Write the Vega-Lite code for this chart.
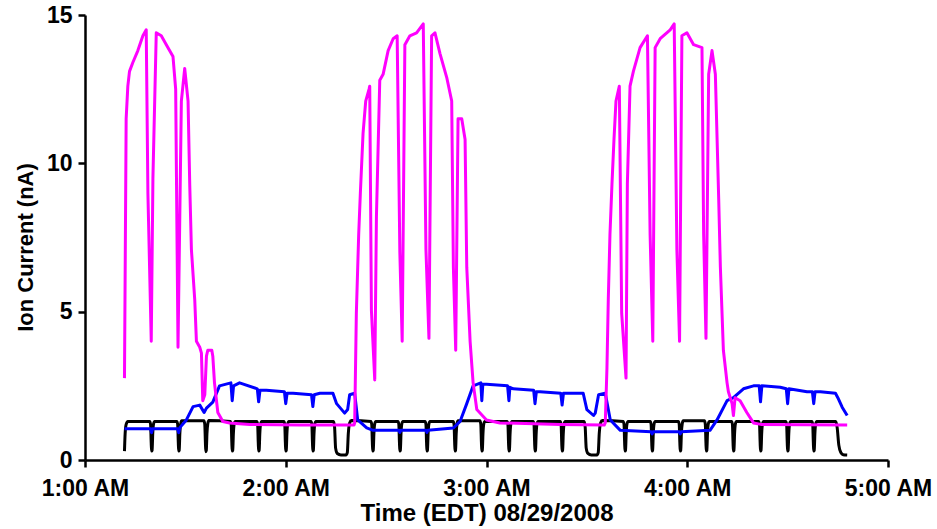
{
  "$schema": "https://vega.github.io/schema/vega-lite/v6.json",
  "width": 803,
  "height": 445,
  "autosize": {"type": "none"},
  "padding": {"left": 85, "top": 15, "right": 49, "bottom": 69},
  "background": "white",
  "config": {
    "view": {"stroke": null},
    "axis": {
      "grid": false,
      "domainColor": "black",
      "tickColor": "black",
      "domainWidth": 2.5,
      "tickWidth": 2.5,
      "tickSize": 7,
      "labelFont": "Liberation Sans",
      "labelFontWeight": "bold",
      "labelFontSize": 23,
      "labelColor": "black",
      "titleFont": "Liberation Sans",
      "titleFontWeight": "bold",
      "titleFontSize": 22,
      "titleColor": "black"
    }
  },
  "datasets": {
    "black": [
      {"minute": 71.8, "current": 0.3}, {"minute": 72.0, "current": 0.9}, {"minute": 72.3, "current": 1.2}, {"minute": 72.8, "current": 1.3},
      {"minute": 79.35, "current": 1.3}, {"minute": 79.6, "current": 1.2}, {"minute": 79.78, "current": 0.6}, {"minute": 79.9, "current": 0.3}, {"minute": 80.05, "current": 0.32}, {"minute": 80.25, "current": 0.9}, {"minute": 80.5, "current": 1.22}, {"minute": 80.8, "current": 1.3},
      {"minute": 87.45, "current": 1.3}, {"minute": 87.7, "current": 1.2}, {"minute": 87.88, "current": 0.6}, {"minute": 88.0, "current": 0.3}, {"minute": 88.15, "current": 0.32}, {"minute": 88.35, "current": 0.9}, {"minute": 88.6, "current": 1.22}, {"minute": 88.9, "current": 1.32},
      {"minute": 95.55, "current": 1.32}, {"minute": 95.8, "current": 1.2}, {"minute": 95.98, "current": 0.6}, {"minute": 96.1, "current": 0.28}, {"minute": 96.25, "current": 0.32}, {"minute": 96.45, "current": 0.9}, {"minute": 96.7, "current": 1.22}, {"minute": 97.0, "current": 1.33},
      {"minute": 103.45, "current": 1.3}, {"minute": 103.7, "current": 1.2}, {"minute": 103.88, "current": 0.6}, {"minute": 104.0, "current": 0.3}, {"minute": 104.15, "current": 0.32}, {"minute": 104.35, "current": 0.9}, {"minute": 104.6, "current": 1.22}, {"minute": 104.9, "current": 1.3},
      {"minute": 111.35, "current": 1.3}, {"minute": 111.6, "current": 1.2}, {"minute": 111.78, "current": 0.6}, {"minute": 111.9, "current": 0.3}, {"minute": 112.05, "current": 0.32}, {"minute": 112.25, "current": 0.9}, {"minute": 112.5, "current": 1.22}, {"minute": 112.8, "current": 1.3},
      {"minute": 119.45, "current": 1.3}, {"minute": 119.7, "current": 1.2}, {"minute": 119.88, "current": 0.6}, {"minute": 120.0, "current": 0.3}, {"minute": 120.15, "current": 0.32}, {"minute": 120.35, "current": 0.9}, {"minute": 120.6, "current": 1.22}, {"minute": 120.9, "current": 1.3},
      {"minute": 127.55, "current": 1.3}, {"minute": 127.8, "current": 1.2}, {"minute": 127.98, "current": 0.6}, {"minute": 128.1, "current": 0.3}, {"minute": 128.25, "current": 0.32}, {"minute": 128.45, "current": 0.9}, {"minute": 128.7, "current": 1.22}, {"minute": 129.0, "current": 1.3},
      {"minute": 134.3, "current": 1.3}, {"minute": 134.6, "current": 1.1}, {"minute": 134.9, "current": 0.4}, {"minute": 135.4, "current": 0.22}, {"minute": 136.5, "current": 0.17}, {"minute": 138.0, "current": 0.17}, {"minute": 138.4, "current": 0.25}, {"minute": 138.7, "current": 0.9}, {"minute": 139.1, "current": 1.25}, {"minute": 139.6, "current": 1.33},
      {"minute": 145.45, "current": 1.3}, {"minute": 145.7, "current": 1.2}, {"minute": 145.88, "current": 0.6}, {"minute": 146.0, "current": 0.3}, {"minute": 146.15, "current": 0.32}, {"minute": 146.35, "current": 0.9}, {"minute": 146.6, "current": 1.22}, {"minute": 146.9, "current": 1.3},
      {"minute": 153.55, "current": 1.3}, {"minute": 153.8, "current": 1.2}, {"minute": 153.98, "current": 0.6}, {"minute": 154.1, "current": 0.3}, {"minute": 154.25, "current": 0.32}, {"minute": 154.45, "current": 0.9}, {"minute": 154.7, "current": 1.22}, {"minute": 155.0, "current": 1.3},
      {"minute": 161.65, "current": 1.3}, {"minute": 161.9, "current": 1.2}, {"minute": 162.08, "current": 0.6}, {"minute": 162.2, "current": 0.3}, {"minute": 162.35, "current": 0.32}, {"minute": 162.55, "current": 0.9}, {"minute": 162.8, "current": 1.22}, {"minute": 163.1, "current": 1.3},
      {"minute": 170.05, "current": 1.3}, {"minute": 170.3, "current": 1.2}, {"minute": 170.48, "current": 0.6}, {"minute": 170.6, "current": 0.3}, {"minute": 170.75, "current": 0.32}, {"minute": 170.95, "current": 0.9}, {"minute": 171.2, "current": 1.22}, {"minute": 171.5, "current": 1.32},
      {"minute": 178.05, "current": 1.32}, {"minute": 178.3, "current": 1.2}, {"minute": 178.48, "current": 0.6}, {"minute": 178.6, "current": 0.3}, {"minute": 178.75, "current": 0.32}, {"minute": 178.95, "current": 0.9}, {"minute": 179.2, "current": 1.22}, {"minute": 179.5, "current": 1.3},
      {"minute": 186.15, "current": 1.3}, {"minute": 186.4, "current": 1.2}, {"minute": 186.58, "current": 0.6}, {"minute": 186.7, "current": 0.3}, {"minute": 186.85, "current": 0.32}, {"minute": 187.05, "current": 0.9}, {"minute": 187.3, "current": 1.22}, {"minute": 187.6, "current": 1.3},
      {"minute": 193.95, "current": 1.3}, {"minute": 194.2, "current": 1.2}, {"minute": 194.38, "current": 0.6}, {"minute": 194.5, "current": 0.3}, {"minute": 194.65, "current": 0.32}, {"minute": 194.85, "current": 0.9}, {"minute": 195.1, "current": 1.22}, {"minute": 195.4, "current": 1.3},
      {"minute": 202.05, "current": 1.3}, {"minute": 202.3, "current": 1.2}, {"minute": 202.48, "current": 0.6}, {"minute": 202.6, "current": 0.3}, {"minute": 202.75, "current": 0.32}, {"minute": 202.95, "current": 0.9}, {"minute": 203.2, "current": 1.22}, {"minute": 203.5, "current": 1.3},
      {"minute": 209.2, "current": 1.3}, {"minute": 209.5, "current": 1.1}, {"minute": 209.8, "current": 0.4}, {"minute": 210.3, "current": 0.22}, {"minute": 211.3, "current": 0.17}, {"minute": 213.0, "current": 0.17}, {"minute": 213.4, "current": 0.25}, {"minute": 213.7, "current": 0.9}, {"minute": 214.1, "current": 1.25}, {"minute": 214.6, "current": 1.33},
      {"minute": 220.85, "current": 1.3}, {"minute": 221.1, "current": 1.2}, {"minute": 221.28, "current": 0.6}, {"minute": 221.4, "current": 0.3}, {"minute": 221.55, "current": 0.32}, {"minute": 221.75, "current": 0.9}, {"minute": 222.0, "current": 1.22}, {"minute": 222.3, "current": 1.3},
      {"minute": 228.95, "current": 1.3}, {"minute": 229.2, "current": 1.2}, {"minute": 229.38, "current": 0.6}, {"minute": 229.5, "current": 0.3}, {"minute": 229.65, "current": 0.32}, {"minute": 229.85, "current": 0.9}, {"minute": 230.1, "current": 1.22}, {"minute": 230.4, "current": 1.3},
      {"minute": 237.35, "current": 1.3}, {"minute": 237.6, "current": 1.2}, {"minute": 237.78, "current": 0.6}, {"minute": 237.9, "current": 0.3}, {"minute": 238.05, "current": 0.32}, {"minute": 238.25, "current": 0.9}, {"minute": 238.5, "current": 1.22}, {"minute": 238.8, "current": 1.32},
      {"minute": 245.15, "current": 1.32}, {"minute": 245.4, "current": 1.2}, {"minute": 245.58, "current": 0.6}, {"minute": 245.7, "current": 0.3}, {"minute": 245.85, "current": 0.32}, {"minute": 246.05, "current": 0.9}, {"minute": 246.3, "current": 1.22}, {"minute": 246.6, "current": 1.3},
      {"minute": 253.25, "current": 1.3}, {"minute": 253.5, "current": 1.2}, {"minute": 253.68, "current": 0.6}, {"minute": 253.8, "current": 0.3}, {"minute": 253.95, "current": 0.32}, {"minute": 254.15, "current": 0.9}, {"minute": 254.4, "current": 1.22}, {"minute": 254.7, "current": 1.3},
      {"minute": 261.35, "current": 1.3}, {"minute": 261.6, "current": 1.2}, {"minute": 261.78, "current": 0.6}, {"minute": 261.9, "current": 0.3}, {"minute": 262.05, "current": 0.32}, {"minute": 262.25, "current": 0.9}, {"minute": 262.5, "current": 1.22}, {"minute": 262.8, "current": 1.3},
      {"minute": 269.45, "current": 1.3}, {"minute": 269.7, "current": 1.2}, {"minute": 269.88, "current": 0.6}, {"minute": 270.0, "current": 0.3}, {"minute": 270.15, "current": 0.32}, {"minute": 270.35, "current": 0.9}, {"minute": 270.6, "current": 1.22}, {"minute": 270.9, "current": 1.3},
      {"minute": 277.25, "current": 1.3}, {"minute": 277.5, "current": 1.2}, {"minute": 277.68, "current": 0.6}, {"minute": 277.8, "current": 0.3}, {"minute": 277.95, "current": 0.32}, {"minute": 278.15, "current": 0.9}, {"minute": 278.4, "current": 1.22}, {"minute": 278.7, "current": 1.3},
      {"minute": 284.4, "current": 1.3}, {"minute": 284.8, "current": 1.1}, {"minute": 285.3, "current": 0.5}, {"minute": 285.9, "current": 0.25}, {"minute": 286.6, "current": 0.18}, {"minute": 287.8, "current": 0.17}
    ],
    "blue": [
      {"minute": 71.8, "current": 1.05}, {"minute": 79.6, "current": 1.05}, {"minute": 79.9, "current": 0.92}, {"minute": 80.2, "current": 1.05},
      {"minute": 87.7, "current": 1.05}, {"minute": 88.0, "current": 0.92}, {"minute": 88.4, "current": 1.1},
      {"minute": 90.3, "current": 1.35}, {"minute": 92.3, "current": 1.8}, {"minute": 94.3, "current": 1.85}, {"minute": 95.6, "current": 1.6}, {"minute": 96.3, "current": 1.75},
      {"minute": 98.2, "current": 1.95}, {"minute": 100.2, "current": 2.5}, {"minute": 103.6, "current": 2.6}, {"minute": 104.0, "current": 2.0}, {"minute": 104.4, "current": 2.5},
      {"minute": 106.2, "current": 2.6}, {"minute": 111.5, "current": 2.4}, {"minute": 111.9, "current": 1.96}, {"minute": 112.3, "current": 2.35},
      {"minute": 114.2, "current": 2.35}, {"minute": 119.6, "current": 2.3}, {"minute": 120.0, "current": 1.9}, {"minute": 120.4, "current": 2.25},
      {"minute": 122.2, "current": 2.25}, {"minute": 127.7, "current": 2.2}, {"minute": 128.1, "current": 1.8}, {"minute": 128.5, "current": 2.2},
      {"minute": 130.2, "current": 2.25}, {"minute": 134.1, "current": 2.25}, {"minute": 135.2, "current": 1.9}, {"minute": 137.6, "current": 1.58}, {"minute": 138.5, "current": 1.7},
      {"minute": 139.1, "current": 2.2}, {"minute": 140.6, "current": 2.25}, {"minute": 141.5, "current": 1.35}, {"minute": 144.2, "current": 1.08}, {"minute": 146.1, "current": 1.0},
      {"minute": 153.8, "current": 1.0}, {"minute": 154.1, "current": 0.93}, {"minute": 154.4, "current": 1.0},
      {"minute": 161.9, "current": 1.0}, {"minute": 162.2, "current": 0.93}, {"minute": 162.5, "current": 1.0},
      {"minute": 170.1, "current": 1.08}, {"minute": 172.1, "current": 1.3}, {"minute": 174.1, "current": 1.9}, {"minute": 176.0, "current": 2.5},
      {"minute": 178.3, "current": 2.6}, {"minute": 178.6, "current": 2.0}, {"minute": 178.9, "current": 2.55}, {"minute": 180.0, "current": 2.55},
      {"minute": 186.3, "current": 2.5}, {"minute": 186.7, "current": 2.0}, {"minute": 187.0, "current": 2.45}, {"minute": 188.0, "current": 2.4},
      {"minute": 194.1, "current": 2.35}, {"minute": 194.5, "current": 1.9}, {"minute": 194.9, "current": 2.3}, {"minute": 196.0, "current": 2.3},
      {"minute": 202.2, "current": 2.25}, {"minute": 202.6, "current": 1.85}, {"minute": 203.0, "current": 2.25},
      {"minute": 208.9, "current": 2.25}, {"minute": 210.0, "current": 1.7}, {"minute": 212.0, "current": 1.5}, {"minute": 212.5, "current": 1.58},
      {"minute": 213.5, "current": 2.2}, {"minute": 215.5, "current": 2.25}, {"minute": 217.0, "current": 1.35}, {"minute": 220.0, "current": 1.0},
      {"minute": 229.2, "current": 0.95}, {"minute": 229.5, "current": 0.88}, {"minute": 229.8, "current": 0.95},
      {"minute": 237.6, "current": 0.95}, {"minute": 237.9, "current": 0.88}, {"minute": 238.2, "current": 0.95},
      {"minute": 246.8, "current": 1.0}, {"minute": 248.9, "current": 1.35}, {"minute": 251.9, "current": 2.0}, {"minute": 253.8, "current": 2.1},
      {"minute": 256.8, "current": 2.4}, {"minute": 259.8, "current": 2.5}, {"minute": 261.5, "current": 2.5}, {"minute": 261.9, "current": 1.96}, {"minute": 262.3, "current": 2.5},
      {"minute": 267.8, "current": 2.45}, {"minute": 269.6, "current": 2.4}, {"minute": 270.0, "current": 1.9}, {"minute": 270.4, "current": 2.4},
      {"minute": 275.8, "current": 2.3}, {"minute": 277.4, "current": 2.3}, {"minute": 277.8, "current": 1.9}, {"minute": 278.2, "current": 2.3},
      {"minute": 279.8, "current": 2.3}, {"minute": 284.3, "current": 2.25}, {"minute": 285.0, "current": 2.1}, {"minute": 286.3, "current": 1.78}, {"minute": 287.8, "current": 1.5}
    ],
    "magenta": [
      {"minute": 71.8, "current": 2.76}, {"minute": 72.3, "current": 11.5}, {"minute": 72.8, "current": 12.6}, {"minute": 73.3, "current": 13.1},
      {"minute": 74.3, "current": 13.4}, {"minute": 75.8, "current": 13.8}, {"minute": 77.3, "current": 14.3}, {"minute": 78.3, "current": 14.5},
      {"minute": 78.8, "current": 9.0}, {"minute": 79.8, "current": 4.0}, {"minute": 80.3, "current": 9.5}, {"minute": 81.3, "current": 14.4},
      {"minute": 82.8, "current": 14.3}, {"minute": 84.3, "current": 14.0}, {"minute": 86.3, "current": 13.6}, {"minute": 87.1, "current": 12.5},
      {"minute": 87.8, "current": 3.8}, {"minute": 88.8, "current": 12.1}, {"minute": 89.8, "current": 13.2}, {"minute": 90.8, "current": 12.1},
      {"minute": 91.3, "current": 9.3}, {"minute": 91.8, "current": 7.1}, {"minute": 92.8, "current": 5.4}, {"minute": 93.3, "current": 4.0},
      {"minute": 94.3, "current": 3.8}, {"minute": 94.8, "current": 3.6}, {"minute": 95.2, "current": 2.0}, {"minute": 95.8, "current": 2.2},
      {"minute": 96.3, "current": 3.5}, {"minute": 96.7, "current": 3.7}, {"minute": 97.9, "current": 3.7}, {"minute": 98.2, "current": 3.5},
      {"minute": 98.7, "current": 2.6}, {"minute": 99.7, "current": 1.6}, {"minute": 101.2, "current": 1.3}, {"minute": 103.2, "current": 1.25},
      {"minute": 109.2, "current": 1.2}, {"minute": 124.2, "current": 1.18}, {"minute": 140.4, "current": 1.18},
      {"minute": 140.6, "current": 1.25}, {"minute": 141.1, "current": 4.95}, {"minute": 141.8, "current": 7.6}, {"minute": 142.3, "current": 9.0},
      {"minute": 143.1, "current": 11.0}, {"minute": 143.9, "current": 12.1}, {"minute": 144.9, "current": 12.5}, {"minute": 145.1, "current": 12.6},
      {"minute": 145.6, "current": 5.05}, {"minute": 146.6, "current": 2.7}, {"minute": 147.1, "current": 8.2}, {"minute": 148.1, "current": 12.8},
      {"minute": 149.1, "current": 13.0}, {"minute": 150.6, "current": 13.8}, {"minute": 152.1, "current": 14.2}, {"minute": 153.3, "current": 14.3},
      {"minute": 154.1, "current": 7.0}, {"minute": 154.8, "current": 4.0}, {"minute": 155.6, "current": 14.0}, {"minute": 157.1, "current": 14.3},
      {"minute": 159.1, "current": 14.4}, {"minute": 161.1, "current": 14.7}, {"minute": 161.9, "current": 7.1}, {"minute": 162.8, "current": 4.1},
      {"minute": 163.6, "current": 14.3}, {"minute": 164.6, "current": 14.4}, {"minute": 166.1, "current": 13.7}, {"minute": 168.1, "current": 12.9},
      {"minute": 169.6, "current": 12.1}, {"minute": 170.1, "current": 6.5}, {"minute": 170.8, "current": 3.7}, {"minute": 171.5, "current": 11.5},
      {"minute": 172.6, "current": 11.5}, {"minute": 173.6, "current": 10.8}, {"minute": 174.1, "current": 6.5}, {"minute": 175.1, "current": 4.0},
      {"minute": 176.0, "current": 2.6}, {"minute": 177.1, "current": 1.7}, {"minute": 180.0, "current": 1.35}, {"minute": 184.0, "current": 1.25},
      {"minute": 202.0, "current": 1.2}, {"minute": 215.2, "current": 1.18},
      {"minute": 215.5, "current": 1.25}, {"minute": 216.0, "current": 3.1}, {"minute": 216.4, "current": 5.4}, {"minute": 216.9, "current": 7.6},
      {"minute": 217.5, "current": 9.3}, {"minute": 218.1, "current": 10.8}, {"minute": 218.7, "current": 12.1}, {"minute": 219.7, "current": 12.6},
      {"minute": 220.4, "current": 4.95}, {"minute": 221.7, "current": 2.76}, {"minute": 222.1, "current": 9.3}, {"minute": 222.9, "current": 12.6},
      {"minute": 223.9, "current": 13.1}, {"minute": 225.9, "current": 13.9}, {"minute": 228.1, "current": 14.3}, {"minute": 228.9, "current": 7.6},
      {"minute": 229.7, "current": 4.0}, {"minute": 230.4, "current": 13.9}, {"minute": 231.9, "current": 14.2}, {"minute": 234.9, "current": 14.5},
      {"minute": 236.1, "current": 14.7}, {"minute": 236.9, "current": 7.1}, {"minute": 237.7, "current": 4.0}, {"minute": 238.4, "current": 14.3},
      {"minute": 239.9, "current": 14.4}, {"minute": 241.9, "current": 14.0}, {"minute": 244.4, "current": 13.9}, {"minute": 244.9, "current": 7.6},
      {"minute": 245.6, "current": 4.1}, {"minute": 246.4, "current": 13.0}, {"minute": 247.4, "current": 13.8}, {"minute": 248.4, "current": 13.0},
      {"minute": 249.4, "current": 8.8}, {"minute": 249.9, "current": 6.5}, {"minute": 250.8, "current": 3.7}, {"minute": 251.9, "current": 2.6},
      {"minute": 252.3, "current": 2.3}, {"minute": 253.4, "current": 1.9}, {"minute": 253.8, "current": 1.5}, {"minute": 254.3, "current": 2.1},
      {"minute": 255.8, "current": 2.0}, {"minute": 257.8, "current": 1.6}, {"minute": 259.8, "current": 1.25}, {"minute": 262.0, "current": 1.2},
      {"minute": 287.8, "current": 1.18}
    ]
  },
  "layer": [
    {
      "data": {"name": "black"},
      "mark": {"type": "line", "color": "black", "strokeWidth": 3, "strokeJoin": "round", "interpolate": "monotone"},
      "encoding": {
        "x": {
          "field": "minute", "type": "quantitative",
          "scale": {"domain": [60, 300], "nice": false, "zero": false},
          "axis": {
            "values": [60, 120, 180, 240, 300],
            "labelExpr": "floor(datum.value / 60) + ':00 AM'",
            "labelFlush": false,
            "labelOverlap": false,
            "labelPadding": 10,
            "title": "Time (EDT) 08/29/2008",
            "titleFontSize": 24,
            "titlePadding": 1
          }
        },
        "y": {
          "field": "current", "type": "quantitative",
          "scale": {"domain": [0, 15], "nice": false},
          "axis": {
            "values": [0, 5, 10, 15],
            "labelPadding": 6,
            "title": "Ion Current (nA)",
            "titleY": 232,
            "titlePadding": 9
          }
        }
      }
    },
    {
      "data": {"name": "blue"},
      "mark": {"type": "line", "color": "#0000ff", "strokeWidth": 3, "strokeJoin": "round"},
      "encoding": {
        "x": {"field": "minute", "type": "quantitative"},
        "y": {"field": "current", "type": "quantitative"}
      }
    },
    {
      "data": {"name": "magenta"},
      "mark": {"type": "line", "color": "#ff00ff", "strokeWidth": 3, "strokeJoin": "round"},
      "encoding": {
        "x": {"field": "minute", "type": "quantitative"},
        "y": {"field": "current", "type": "quantitative"}
      }
    }
  ]
}
